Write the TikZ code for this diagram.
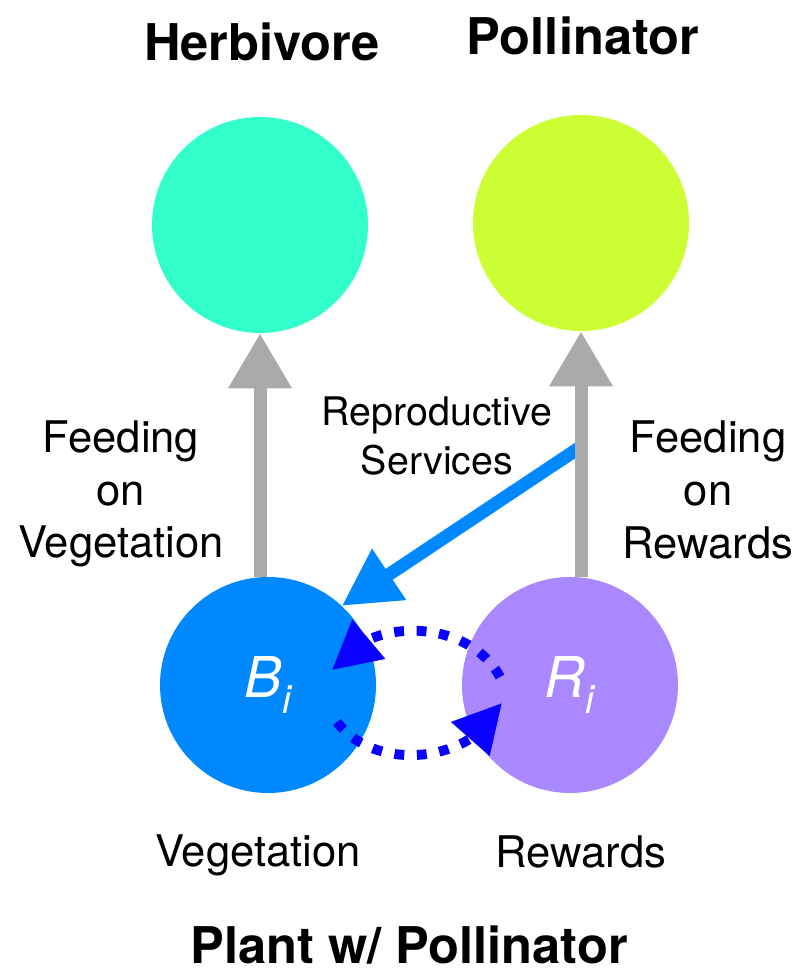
\documentclass[tikz,border=0pt]{standalone}
\usepackage{fontspec}
\setmainfont{TeX Gyre Heros}
\usetikzlibrary{arrows.meta, calc, bending}
\definecolor{herbcol}{HTML}{33FFCC}
\definecolor{pollcol}{HTML}{CCFF33}
\definecolor{vegcol}{HTML}{0088FF}
\definecolor{rewcol}{HTML}{AA88FF}
\definecolor{loopcol}{HTML}{0A00FF}
\definecolor{feedgray}{HTML}{AAAAAA}

\begin{document}
\begin{tikzpicture}[
    species/.style={circle, minimum size=5.4cm, inner sep=0pt, text=white, font=\fontsize{40}{48}\selectfont\itshape},
    title/.style={font=\fontsize{36}{43}\selectfont\bfseries, anchor=base, inner sep=0pt},
    lbl/.style={font=\fontsize{31}{37.5}\selectfont, align=center},
    feed/.style={draw=feedgray, line width=0.325cm, -{Triangle[length=1.375cm, width=1.5cm]}},
    serv/.style={draw=vegcol, line width=0.325cm, -{Triangle[length=1.42cm, width=1.45cm]}},
    flowloop/.style={draw=loopcol, line width=7pt, dash pattern=on 7pt off 9pt, -{Triangle[length=1.2cm, width=1.22cm, flex]}},
]
    \useasboundingbox (0,0) rectangle (20.05,24.425);
    % Species
    \node[species, fill=herbcol] (H) at (6.5, 18.8) {};
    \node[species, fill=pollcol] (P) at (14.525, 18.85) {};
    \node[species, fill=vegcol] (B) at (6.7, 7.3) {B\textsubscript{i}};
    \node[species, fill=rewcol] (R) at (14.25, 7.3) {R\textsubscript{i}};
    % Titles
    \node[title] (herb-title) at (6.55, 22.9) {Herbivore};
    \node[title] (poll-title) at (14.575, 23.05) {Pollinator};
    \node[title] (plant-title) at (10.225, 0.34) {Plant w/ Pollinator};
    % Feeding links
    \coordinate (h-base) at (H.south |- B.north);
    \coordinate (p-base) at (P.south |- R.north);
    \coordinate (serv-start) at ($(p-base)!0.53!(P.south)$);
    \draw[serv] (serv-start) -- (B.47);
    \draw[feed] (h-base) -- (H.south);
    \draw[feed] (p-base) -- (P.south);
    % Exchange between vegetation and rewards
    \coordinate (r-out) at ($(R)+(-1.75,0.2)$);
    \coordinate (b-in) at ($(B)+(1.6,0.375)$);
    \coordinate (b-out) at ($(B)+(1.725,-0.925)$);
    \coordinate (r-in) at ($(R)+(-1.7,-0.45)$);
    \draw[flowloop] (r-out) to[bend right=60] (b-in);
    \draw[flowloop] (b-out) to[bend right=60] (r-in);
    % Labels
    \node[lbl] (feed-veg) at (3.025, 12.075) {Feeding\\on\\Vegetation};
    \node[lbl] (feed-rew) at (17.7, 12.175) {Feeding\\on\\Rewards};
    \node[lbl, font=\fontsize{28}{35}\selectfont] (serv-lbl) at (10.925, 13.52) {Reproductive\\Services};
    \node[lbl, anchor=base] (veg-lbl) at (6.45, 2.75) {Vegetation};
    \node[lbl, anchor=base] (rew-lbl) at (14.525, 2.725) {Rewards};
\end{tikzpicture}
\end{document}
